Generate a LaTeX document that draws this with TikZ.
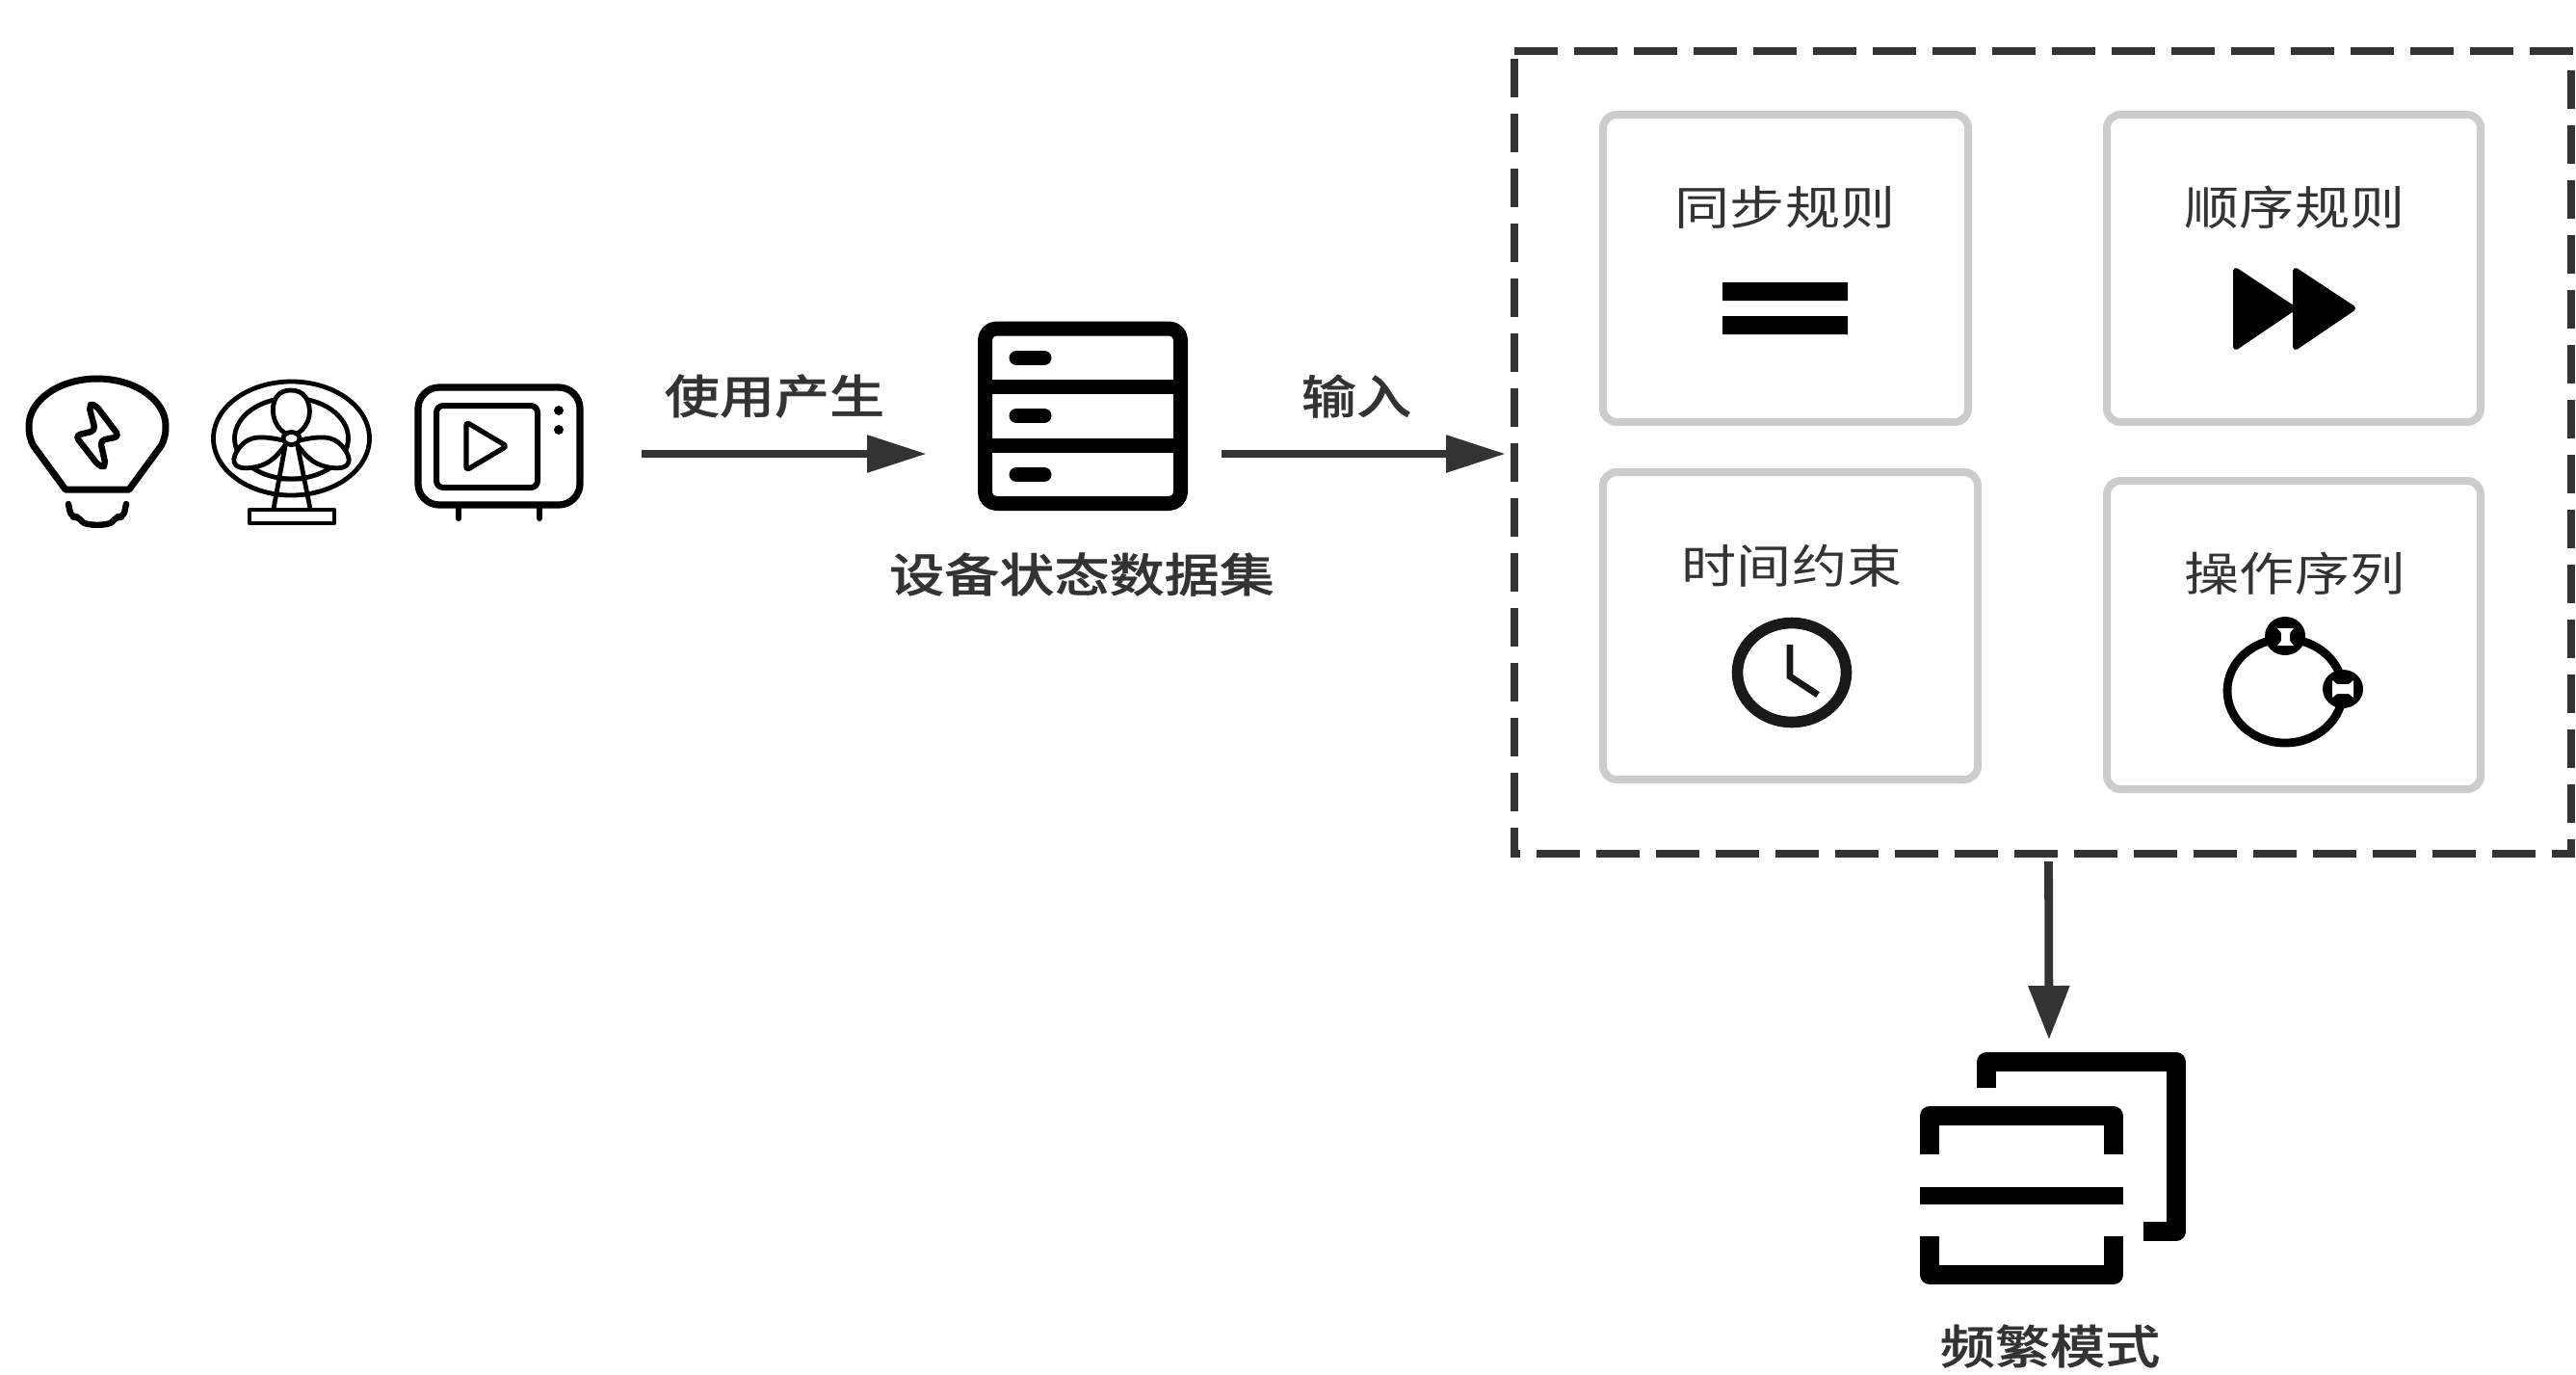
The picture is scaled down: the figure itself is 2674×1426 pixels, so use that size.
\documentclass[tikz,border=0pt]{standalone}
\usepackage{fontspec}
\newfontfamily\cjk[FakeStretch=1.19]{Noto Sans CJK SC}
\newfontfamily\cjkmid[FakeStretch=1.19,FakeBold=0.6]{Noto Sans CJK SC Medium}
\usetikzlibrary{arrows.meta}
\definecolor{darkline}{HTML}{333333}
\definecolor{cardline}{HTML}{CCCCCC}
\tikzset{
  iconBox/.style = {inner sep=0pt, outer sep=0pt},
  ruleCard/.style = {iconBox, draw=cardline, line width=4pt, rounded corners=7pt},
  ruleText/.style = {font=\cjk\fontsize{24pt}{24pt}\selectfont, text=darkline, inner sep=0pt},
  boldText/.style = {ruleText, font=\cjkmid\fontsize{24pt}{24pt}\selectfont},
  flowArrow/.style = {draw=darkline, line width=4.4pt, -{Triangle[length=31pt,width=18.5pt,fill=darkline]}},
  downArrow/.style = {draw=darkline, line width=4.4pt, -{Triangle[length=28pt,width=20.5pt,fill=darkline]}},
  frameLine/.style = {draw=darkline, line width=4.3pt},
  iconLine/.style = {draw=black, line join=round}
}

\begin{document}
\begin{tikzpicture}[x=0.5pt,y=-0.5pt]
\useasboundingbox (0,0) rectangle (2674,1426);

% devices
\node[iconBox, minimum width=74pt, minimum height=78pt] (bulbIcon) at (101,467) {};
\node[iconBox, minimum width=83pt, minimum height=72pt] (fanIcon) at (302,471) {};
\node[iconBox, minimum width=88pt, minimum height=65pt] (tvIcon) at (518,463) {};

\draw[iconLine, line width=3.5pt] (68,508) -- (35,463)
  .. controls (31,456) and (30,450) .. (30,442)
  .. controls (30,415) and (62,393) .. (101,393)
  .. controls (140,393) and (172,415) .. (172,442)
  .. controls (172,450) and (171,456) .. (167,463)
  -- (134,508) -- cycle;
\draw[iconLine, line width=3.2pt, line cap=round, rounded corners=3pt]
  (71,523) -- (74,537) -- (82,536) .. controls (88,546) and (114,546) .. (120,536) -- (128,537) -- (131,523);
\draw[iconLine, line width=3.2pt, rounded corners=2.5pt]
  (92,420) -- (99,420) -- (124,453) -- (104,457) -- (110,484) -- (103,484) -- (78,452) -- (99,447) -- cycle;

\draw[iconLine, line width=2.4pt] (302.5,455) ellipse (81 and 59);
\draw[iconLine, line width=2.4pt] (302.5,455) ellipse (59 and 42);
\draw[iconLine, line width=2.4pt] (296,463) -- (284,528) (309,463) -- (322,528) (289,497) -- (316,497);
\draw[iconLine, line width=2.4pt, fill=white] plot[smooth cycle, tension=0.7] coordinates
  {(302,405) (317,412) (321,432) (310,449) (295,449) (284,432) (287,412)};
\draw[iconLine, line width=2.4pt, fill=white] plot[smooth cycle, tension=0.7] coordinates
  {(294,457) (262,455) (244,472) (249,485) (276,481) (296,462)};
\draw[iconLine, line width=2.4pt, fill=white] plot[smooth cycle, tension=0.7] coordinates
  {(311,457) (343,455) (361,472) (356,485) (329,481) (309,462)};
\draw[iconLine, line width=2.4pt, fill=white] (302.5,455) ellipse (8.5 and 6.5);
\draw[iconLine, line width=2.4pt, fill=white] (259,529) rectangle (347,543);

\draw[iconLine, line width=3.6pt, rounded corners=11pt] (434,402) rectangle (602,524);
\draw[iconLine, line width=3pt, rounded corners=3.5pt] (453,421) rectangle (558,506);
\draw[iconLine, line width=2.6pt, rounded corners=1.5pt] (484,438) -- (526,463) -- (484,488) -- cycle;
\fill (580,426) circle (2.5pt) (580,446) circle (2.5pt);
\draw[iconLine, line width=3pt, line cap=round] (476,528) -- (476,538) (560,528) -- (560,538);

% dataset
\node[iconBox, minimum width=109pt, minimum height=98.5pt] (dataIcon) at (1124,431.5) {};
\draw[iconLine, line width=7.5pt, rounded corners=6pt] (1022.5,341) rectangle (1225.5,522.5);
\draw[iconLine, line width=7.5pt] (1022.5,401.5) -- (1225.5,401.5) (1022.5,462) -- (1225.5,462);
\foreach \pillY in {371.5,431.5,492.5}
  \draw[iconLine, line width=7.5pt, line cap=round] (1055,\pillY) -- (1084,\pillY);
\node[boldText] (dataLabel) at (1123,596) {设备状态数据集};

% arrows in the top row
\node[boldText] (useLabel) at (804,411) {使用产生};
\node[boldText] (inputLabel) at (1408,411) {输入};

% frame around the rules
\node[iconBox, minimum width=548.5pt, minimum height=416.5pt] (ruleFrame) at (2120.5,469.5) {};
\draw[frameLine, dash pattern=on 22.5pt off 8.5pt] (1572,53) -- (2673,53);
\draw[frameLine, dash pattern=on 20pt off 8.5pt] (2669,73) -- (2669,890);
\draw[frameLine, dash pattern=on 22.5pt off 8.5pt, dash phase=17.5pt] (1568,886) -- (2673,886);
\draw[frameLine, dash pattern=on 20pt off 8.5pt] (1572,61) -- (1572,890);

\node[ruleCard, minimum width=189.5pt, minimum height=159.5pt] (syncCard) at (1853.5,278.5) {};
\node[ruleCard, minimum width=194pt, minimum height=159.5pt] (orderCard) at (2381,278.5) {};
\node[ruleCard, minimum width=194.5pt, minimum height=159.5pt] (timeCard) at (1858.5,649.5) {};
\node[ruleCard, minimum width=194pt, minimum height=160pt] (seqCard) at (2381,659) {};

\node[ruleText] (syncLabel) at (1853,215) {同步规则};
\node[ruleText] (orderLabel) at (2382,215) {顺序规则};
\node[ruleText] (timeLabel) at (1860,587) {时间约束};
\node[ruleText] (seqLabel) at (2382,595) {操作序列};

\fill (1788,293) rectangle (1918,312) (1788,328) rectangle (1918,347);

\fill[draw=black, line width=3pt, line join=round] (2321,281) -- (2380,320) -- (2321,360) -- cycle;
\fill[draw=black, line width=3pt, line join=round] (2383,281) -- (2442,320) -- (2383,360) -- cycle;

\draw[draw=black!90, line width=5.8pt] (1860,698) ellipse (56.5 and 51.5);
\draw[draw=black!90, line width=3.4pt, line join=miter] (1858,669) -- (1858,702) -- (1887,721);

\draw[iconLine, line width=4.4pt] (2372,717) ellipse (60 and 54);
\fill (2372,660) circle [x radius=21, y radius=20];
\fill (2432,715) circle [x radius=21, y radius=20];
\fill[white] (2364,652) -- (2381,652) -- (2377,657) -- (2377,665) -- (2381,670) -- (2364,670) -- (2368,665) -- (2368,657) -- cycle;
\fill[white] (2421,706) -- (2426,710) -- (2438,710) -- (2443,706) -- (2443,724) -- (2438,720) -- (2426,720) -- (2421,724) -- cycle;

% result
\node[iconBox, minimum width=138pt, minimum height=120.5pt] (freqIcon) at (2131,1212.5) {};
\draw[iconLine, line width=10pt] (2062,1129) -- (2062,1102) -- (2259,1102) -- (2259,1278) -- (2225,1278);
\draw[iconLine, line width=10pt] (2003,1198) -- (2003,1158) -- (2194,1158) -- (2194,1198);
\draw[iconLine, line width=10pt] (2003,1283) -- (2003,1323) -- (2194,1323) -- (2194,1283);
\draw[draw=black, line width=9pt] (1993,1241) -- (2204,1241);
\node[boldText] (freqLabel) at (2128,1397) {频繁模式};

% connectors
\draw[flowArrow, shorten <=30pt, shorten >=26.5pt] ([yshift=-4pt]tvIcon.east) -- ([yshift=-19.75pt]dataIcon.west);
\draw[flowArrow, shorten <=17.5pt, shorten >=4.5pt] ([yshift=-19.75pt]dataIcon.east) -- ([yshift=-0.75pt]ruleFrame.west);
\draw[downArrow, shorten <=4pt, shorten >=6.5pt] ([xshift=3pt]ruleFrame.south) -- ([xshift=-2pt]freqIcon.north);
\end{tikzpicture}
\end{document}
